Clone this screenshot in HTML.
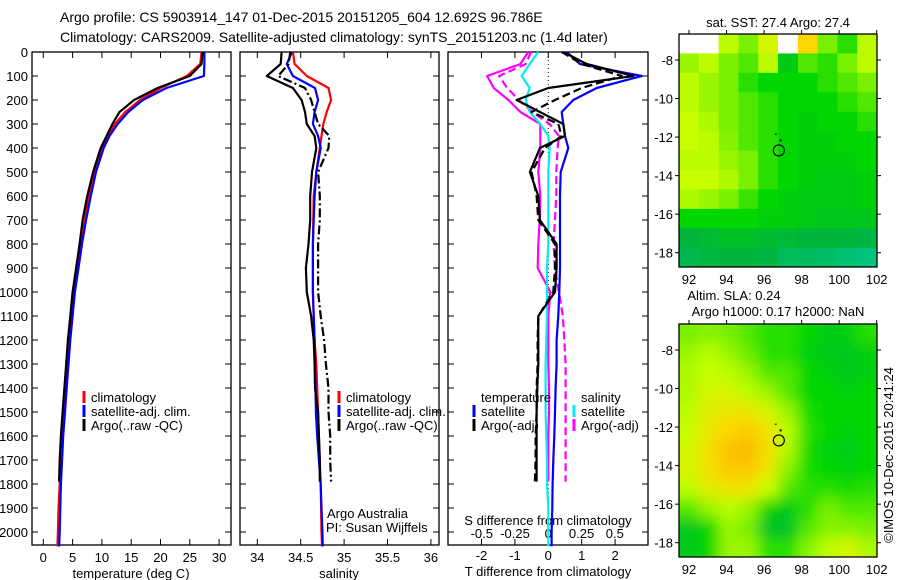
<!DOCTYPE html>
<html><head><meta charset="utf-8">
<style>
html,body{margin:0;padding:0;background:#fff;}
svg{display:block;font-family:"Liberation Sans",sans-serif;}
text{font-size:13px;fill:#000;}
</style></head>
<body>
<svg id="fig" width="900" height="580" viewBox="0 0 900 580" xmlns="http://www.w3.org/2000/svg">
<text x="60" y="22" style="font-size:14px">Argo profile: CS 5903914_147 01-Dec-2015 20151205_604 12.692S 96.786E</text>
<text x="60" y="42" style="font-size:14px">Climatology: CARS2009. Satellite-adjusted climatology: synTS_20151203.nc (1.4d later)</text>
<g id="g1"></g>
<g id="g2"></g>
<g id="g3"></g>
<g id="m1"></g>
<g id="m2"></g>
<text transform="translate(893,455) rotate(-90)" text-anchor="middle">©IMOS 10-Dec-2015 20:41:24</text>
</svg>
<script>
// ---------- data ----------
const depths = [0,50,100,150,200,250,300,350,400,500,600,700,800,900,1000,1100,1200,1300,1400,1500,1600,1700,1800,1900,2000,2060];
const argoDepths = [0,50,100,150,200,250,300,350,400,500,600,700,800,900,1000,1100,1200,1300,1400,1500,1600,1700,1790];
const tempClim = [27,26.8,24.5,20,16.5,14,12.2,11,10,8.7,7.8,7.1,6.4,5.8,5.2,4.8,4.4,4.0,3.7,3.4,3.1,2.9,2.8,2.6,2.5,2.4];
const tempSat = [27.5,27.5,27.4,21,17,14.5,12.7,11.3,10.3,9,8.1,7.3,6.6,6,5.4,5,4.6,4.3,4,3.7,3.4,3.2,3.0,2.9,2.8,2.7];
const tempArgo = [27.2,27,25,19.5,15.5,13,11.8,10.8,9.8,8.5,7.5,6.7,6.2,5.6,5.0,4.6,4.2,3.9,3.6,3.3,3.0,2.8,2.7];
const salClim = [34.41,34.43,34.57,34.82,34.85,34.80,34.76,34.74,34.72,34.68,34.65,34.645,34.64,34.64,34.64,34.65,34.66,34.68,34.69,34.70,34.71,34.72,34.73,34.735,34.74,34.745];
const salSat = [34.40,34.34,34.41,34.665,34.70,34.66,34.64,34.70,34.73,34.68,34.66,34.65,34.64,34.64,34.64,34.65,34.66,34.665,34.67,34.675,34.69,34.71,34.73,34.74,34.75,34.755];
const salArgo = [34.28,34.27,34.11,34.41,34.51,34.55,34.57,34.66,34.68,34.63,34.61,34.61,34.59,34.56,34.57,34.62,34.65,34.66,34.665,34.70,34.71,34.72,34.72];
const salArgoAdj = [34.38,34.36,34.24,34.55,34.62,34.66,34.70,34.83,34.82,34.70,34.72,34.72,34.70,34.70,34.70,34.73,34.77,34.79,34.82,34.82,34.84,34.84,34.85];
const dTSat = [0.55,0.95,2.8,1.45,0.75,0.4,0.45,0.5,0.6,0.37,0.35,0.35,0.35,0.35,0.33,0.3,0.25,0.25,0.22,0.2,0.18,0.15,0.13,0.12,0.1,0.1];
const dTArgo = [0.45,1.15,2.55,0.0,-0.95,-0.25,0.45,0.5,-0.25,-0.55,-0.3,-0.25,0.25,0.25,0.2,-0.3,-0.3,-0.3,-0.33,-0.35,-0.35,-0.35,-0.35];
const dTArgoAdj = [0.4,1.0,2.2,1.0,0.2,-0.5,0.3,0.4,-0.1,-0.5,-0.35,-0.3,0.2,0.2,0.15,-0.3,-0.32,-0.32,-0.35,-0.35,-0.38,-0.38,-0.4];
const dSSat = [-0.075,-0.14,-0.2,-0.14,-0.17,-0.14,-0.06,0.0,0.01,0.0,0.0,0.0,0.0,-0.01,-0.01,-0.01,-0.015,-0.02,-0.02,-0.02,-0.015,-0.01,-0.01,0.0,0.0,0.0];
const dSArgo = [-0.15,-0.21,-0.46,-0.41,-0.3,-0.21,-0.06,-0.06,-0.06,-0.075,-0.06,-0.065,-0.075,-0.08,0.015,0.0,0.0,0.0,0.005,0.005,0.0,0.0,0.0];
const dSArgoAdj = [-0.13,-0.17,-0.37,-0.31,-0.22,-0.12,0.01,0.08,0.07,0.06,0.06,0.05,0.04,0.05,0.08,0.11,0.12,0.13,0.13,0.13,0.13,0.13,0.13];
const depthTicks = [0,100,200,300,400,500,600,700,800,900,1000,1100,1200,1300,1400,1500,1600,1700,1800,1900,2000];
const tempTicks = [0,5,10,15,20,25,30];
const salTicks = [34,34.5,35,35.5,36];
const dTTicks = [-2,-1,0,1,2];
const dSTicks = [-0.5,-0.25,0,0.25,0.5];
const lonTicks = [92,94,96,98,100,102];
const latTicks = [-8,-10,-12,-14,-16,-18];
// SST map grid (rows north->south, cols west->east), 0=teal .. 1=orange, null=no data
const sstGrid = [
[null,null,0.7,0.6,0.75,null,0.85,0.6,0.5,0.7],
[0.65,0.7,0.6,0.55,0.7,0.4,0.55,0.5,0.6,0.7],
[0.7,0.65,0.6,0.5,0.45,0.45,0.45,0.5,0.55,0.6],
[0.7,0.65,0.6,0.55,0.5,0.45,0.45,0.45,0.5,0.55],
[0.72,0.68,0.6,0.55,0.5,0.45,0.42,0.45,0.45,0.5],
[0.72,0.7,0.62,0.55,0.5,0.45,0.42,0.42,0.45,0.45],
[0.7,0.7,0.65,0.6,0.5,0.45,0.42,0.42,0.42,0.45],
[0.72,0.72,0.68,0.6,0.5,0.45,0.42,0.4,0.4,0.42],
[0.68,0.65,0.6,0.52,0.45,0.42,0.4,0.4,0.4,0.42],
[0.45,0.45,0.45,0.45,0.42,0.42,0.4,0.38,0.38,0.38],
[0.3,0.32,0.35,0.35,0.33,0.32,0.3,0.3,0.3,0.28],
[0.25,0.28,0.3,0.3,0.28,0.22,0.2,0.18,0.15,0.12]];
const slaGrid = [
[0.6,0.62,0.6,0.55,0.5,0.5,0.45,0.4,0.42,0.5],
[0.65,0.7,0.65,0.58,0.5,0.5,0.42,0.4,0.38,0.42],
[0.68,0.72,0.7,0.65,0.55,0.55,0.45,0.42,0.38,0.42],
[0.68,0.75,0.75,0.7,0.65,0.55,0.45,0.45,0.42,0.45],
[0.7,0.78,0.8,0.8,0.75,0.65,0.48,0.45,0.45,0.45],
[0.72,0.8,0.85,0.88,0.8,0.7,0.5,0.45,0.42,0.45],
[0.75,0.82,0.9,0.92,0.82,0.68,0.48,0.43,0.4,0.45],
[0.75,0.82,0.88,0.88,0.8,0.62,0.48,0.45,0.42,0.45],
[0.7,0.78,0.8,0.8,0.72,0.55,0.5,0.5,0.48,0.5],
[0.55,0.65,0.7,0.65,0.45,0.4,0.5,0.6,0.55,0.55],
[0.38,0.45,0.65,0.6,0.35,0.35,0.55,0.62,0.62,0.6],
[0.4,0.45,0.65,0.65,0.5,0.5,0.62,0.7,0.75,0.68]];
const profileLon = 96.786, profileLat = -12.692;

// ---------- helpers ----------
const NS="http://www.w3.org/2000/svg";
function mk(parent,tag,attrs){const e=document.createElementNS(NS,tag);for(const k in attrs)e.setAttribute(k,attrs[k]);parent.appendChild(e);return e;}
const yD = d => 52 + d*0.24;
const PT=52, PB=545;

function panel(g,x0,x1){
  const r=mk(g,'rect',{x:x0,y:PT,width:x1-x0,height:PB-PT,fill:'none',stroke:'#000','stroke-width':1.3});
  
  
  depthTicks.forEach(d=>{
    const y=yD(d);
    const t1=mk(g,'line',{x1:x0,x2:x0+6,y1:y,y2:y,stroke:'#000'});
    
    
    const t2=mk(g,'line',{x1:x1-6,x2:x1,y1:y,y2:y,stroke:'#000'});
    
    
  });
}
function xticks(g,ticks,fx,ylab,labels){
  ticks.forEach((v,i)=>{
    const x=fx(v);
    const a=mk(g,'line',{x1:x,x2:x,y1:PB,y2:PB-6,stroke:'#000'});
    
    
    const b=mk(g,'line',{x1:x,x2:x,y1:PT,y2:PT+6,stroke:'#000'});
    
    
    if(labels){const t=mk(g,'text',{x:x,y:ylab,'text-anchor':'middle'});t.textContent=String(v);
      
      }
  });
}
function line(g,xs,ds,fx,color,dash,name,w){
  const pts=xs.map((v,i)=>fx(v).toFixed(1)+','+yD(ds[i]).toFixed(1)).join(' ');
  const a={points:pts,fill:'none',stroke:color,'stroke-width':w||2.2,'stroke-linejoin':'round'};
  if(dash)a['stroke-dasharray']=dash;
  const p=mk(g,'polyline',a);
  
  
}
function legend(g,x,y,items){
  items.forEach((it,i)=>{
    const yy=y+i*14;
    const m=mk(g,'line',{x1:x,x2:x,y1:yy-11,y2:yy+1,stroke:it[1],'stroke-width':3});
    
    
    const t=mk(g,'text',{x:x+7,y:yy});t.textContent=it[0];
    
    
  });
}
function txt(g,x,y,s,anchor,name){const t=mk(g,'text',{x:x,y:y,'text-anchor':anchor||'start'});t.textContent=s;
  
  return t;}

// ---------- panel 1: temperature ----------
const g1=document.getElementById('g1');
const fT=t=>43.3+t*5.86;
panel(g1,32,231);
depthTicks.forEach(d=>{const t=txt(g1,28,yD(d)+5,String(d),'end','depth-tick-label');});
xticks(g1,tempTicks,fT,562,true);
txt(g1,131,578,'temperature (deg C)','middle','x-axis-title');
line(g1,tempClim,depths,fT,'#f00',null,'temp-climatology-line');
line(g1,tempSat,depths,fT,'#00f',null,'temp-satellite-line');
line(g1,tempArgo,argoDepths,fT,'#000',null,'temp-argo-line');
legend(g1,84,402,[['climatology','#f00'],['satellite-adj. clim.','#00f'],['Argo(..raw -QC)','#000']]);

// ---------- panel 2: salinity ----------
const g2=document.getElementById('g2');
const fS=s=>257.3+(s-34)*86.8;
panel(g2,240,439);
xticks(g2,salTicks,fS,562,true);
txt(g2,339,578,'salinity','middle','x-axis-title');
line(g2,salClim,depths,fS,'#f00',null,'sal-climatology-line');
line(g2,salSat,depths,fS,'#00f',null,'sal-satellite-line');
line(g2,salArgo,argoDepths,fS,'#000',null,'sal-argo-line');
line(g2,salArgoAdj,argoDepths,fS,'#000','9,3,2,3','sal-argo-adjusted-line');
legend(g2,339,402,[['climatology','#f00'],['satellite-adj. clim.','#00f'],['Argo(..raw -QC)','#000']]);
txt(g2,327,518,'Argo Australia','start','credit-line-1');
txt(g2,326,532,'PI: Susan Wijffels','start','credit-line-2');

// ---------- panel 3: differences ----------
const g3=document.getElementById('g3');
const fdT=v=>548.3+v*33.4;
const fdS=v=>548.3+v*133;
panel(g3,448,648);
xticks(g3,dTTicks,fdT,560,true);
dSTicks.forEach(v=>{const t=txt(g3,fdS(v),538,String(v).replace('0.','.').replace('-.','-0.').replace(/^\.(\d)/,'0.$1'),'middle','s-tick-label');});
txt(g3,548,525,'S difference from climatology','middle','s-axis-title');
txt(g3,548,576,'T difference from climatology','middle','t-axis-title');
const zl=mk(g3,'line',{x1:fdT(0),x2:fdT(0),y1:PT,y2:PB,stroke:'#000','stroke-dasharray':'1,3'});


line(g3,dSArgo,argoDepths,fdS,'#f0f',null,'s-argo-diff-line');
line(g3,dSArgoAdj,argoDepths,fdS,'#f0f','8,4','s-argo-adj-diff-line');
line(g3,dSSat,depths,fdS,'#0ee',null,'s-satellite-diff-line');
line(g3,dTSat,depths,fdT,'#00f',null,'t-satellite-diff-line');
line(g3,dTArgo,argoDepths,fdT,'#000',null,'t-argo-diff-line');
line(g3,dTArgoAdj,argoDepths,fdT,'#000','8,4','t-argo-adj-diff-line');
txt(g3,481,402,'temperature','start','legend-title-temperature');
legend(g3,474,416,[['satellite','#00f'],['Argo(-adj)','#000']]);
txt(g3,581,402,'salinity','start','legend-title-salinity');
legend(g3,574,416,[['satellite','#0ee'],['Argo(-adj)','#f0f']]);

// ---------- maps ----------
function cmap(v){
  const stops=[[0,[0,205,170]],[0.3,[0,180,60]],[0.45,[0,215,0]],[0.6,[120,240,0]],[0.72,[200,255,0]],[0.85,[255,215,0]],[1,[245,150,0]]];
  for(let i=1;i<stops.length;i++){if(v<=stops[i][0]){const a=stops[i-1],b=stops[i];const f=(v-a[0])/(b[0]-a[0]);
    return 'rgb('+a[1].map((c,k)=>Math.round(c+(b[1][k]-c)*f)).join(',')+')';}}
  return 'rgb(245,150,0)';
}
function drawMap(id,top,grid,blur){
  const g=document.getElementById(id);
  const L=679,R=877,B=top+233;
  const lonX=lon=>689+(lon-92)*18.77;
  const latY=lat=>top+26+(-8-lat)*19.27;
  const lon0=91.47,lon1=102.02,lat0=-6.65,lat1=-18.75;
  const nr=grid.length,nc=grid[0].length;
  const cid=id+'clip';
  const defs=mk(g,'defs',{});
  const cp=mk(defs,'clipPath',{id:cid});mk(cp,'rect',{x:L,y:top,width:R-L,height:B-top});
  if(blur){const f=mk(defs,'filter',{id:id+'blur',x:'-10%',y:'-10%',width:'120%',height:'120%'});mk(f,'feGaussianBlur',{stdDeviation:7});}
  const cg=mk(g,'g',{'clip-path':'url(#'+cid+')'});
  const inner=mk(cg,'g',blur?{filter:'url(#'+id+'blur)'}:{});
  grid.forEach((row,r)=>row.forEach((v,c)=>{
    const x0=lonX(lon0+(lon1-lon0)*c/nc), x1=lonX(lon0+(lon1-lon0)*(c+1)/nc);
    const y0=latY(lat0+(lat1-lat0)*r/nr), y1=latY(lat0+(lat1-lat0)*(r+1)/nr);
    const pad=blur?12:0;
    const cell=mk(inner,'rect',{x:(c==0?x0-pad:x0),y:(r==0?y0-pad:y0),width:x1-x0+0.5+(c==0||c==nc-1?pad:0),height:y1-y0+0.5+(r==0||r==nr-1?pad:0),fill:v===null?'#fff':cmap(v)});
    
    
  }));
  const fr=mk(g,'rect',{x:L,y:top,width:R-L,height:B-top,fill:'none',stroke:'#000','stroke-width':1.3});
  
  
  lonTicks.forEach(v=>{const x=lonX(v);
    const a=mk(g,'line',{x1:x,x2:x,y1:top,y2:top-4,stroke:'#000'});
    
    
    const t=txt(g,x,B+17,String(v),'middle','lon-tick-label');});
  latTicks.forEach(v=>{const y=latY(v);
    const a=mk(g,'line',{x1:L-4,x2:L,y1:y,y2:y,stroke:'#000'});
    
    
    const b=mk(g,'line',{x1:R,x2:R+4,y1:y,y2:y,stroke:'#000'});
    
    
    txt(g,L-6,y+5,String(v),'end','lat-tick-label');});
  const c=mk(g,'circle',{cx:lonX(profileLon),cy:latY(profileLat),r:5.5,fill:'none',stroke:'#000','stroke-width':1.2});
  
  
  const d1=mk(g,'rect',{x:lonX(96.62)-1,y:latY(-11.85)-0.5,width:2,height:1,fill:'#000'});
  
  
  const d2=mk(g,'rect',{x:lonX(96.88)-1,y:latY(-12.17)-1,width:2,height:2,fill:'#000'});
  
  
}
drawMap('m1',34,sstGrid,false);
drawMap('m2',324,slaGrid,true);
txt(document.getElementById('m1'),778,27,'sat. SST: 27.4 Argo: 27.4','middle','sst-map-title');
txt(document.getElementById('m2'),734,300,'Altim. SLA: 0.24','middle','sla-map-title');
txt(document.getElementById('m2'),778,316,'Argo h1000: 0.17 h2000: NaN','middle','sla-map-subtitle');
</script>
</body></html>
